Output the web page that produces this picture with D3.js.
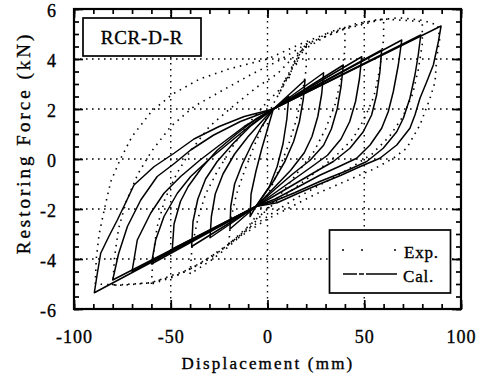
<!DOCTYPE html>
<html>
<head>
<meta charset="utf-8">
<script src="https://cdn.jsdelivr.net/npm/d3@7"></script>
<style>
  body { margin: 0; background: #fff; }
  svg { display: block; font-family: "Liberation Serif", "Times New Roman", serif; }
  svg text { fill: #000; stroke: #000; stroke-width: 0.35px; }
</style>
</head>
<body>
<script>
'use strict';

// axis ticks
const xTicks = [-100, -50, 0, 50, 100];
const yTicks = [-6, -4, -2, 0, 2, 4, 6];
const xGrid = [-50, 0, 50];
const yGrid = [-4, -2, 0, 2, 4];

// calculated model: pivot points where the branches meet
const calPivotUp = [3, 2.0];
const calPivotDown = [-6, -1.9];

// calculated: unloading from each positive peak (first point = peak) down to the lower pivot
const calUnloadPos = [
  [[11, 2.5], [10, 1.6], [8, 0.6], [5, -0.3], [1, -1.1], [-6, -1.9]],
  [[19.4, 3.16], [18.5, 2.4], [16.5, 1.5], [13.5, 0.7], [9, -0.1], [3, -0.9], [-6, -1.9]],
  [[29, 3.45], [28, 2.6], [26, 1.7], [23, 0.9], [19, 0.25], [12, -0.45], [4, -1.1], [-6, -1.9]],
  [[39.2, 3.76], [38, 2.9], [36, 2.0], [33, 1.2], [29, 0.55], [22, -0.05], [13, -0.6], [4, -1.2], [-6, -1.9]],
  [[48.7, 4.09], [47.5, 3.2], [45.5, 2.3], [42.5, 1.5], [38, 0.8], [31, 0.15], [23, -0.3], [13, -0.85], [3, -1.4], [-6, -1.9]],
  [[59, 4.36], [58.1, 3.49], [56.4, 2.56], [53.8, 1.76], [49.5, 1.09], [42.6, 0.43], [34, -0.1], [25, -0.5], [14, -1.0], [3, -1.5], [-6, -1.9]],
  [[69.4, 4.76], [67.6, 3.76], [65, 2.69], [62.4, 1.89], [59, 1.23], [53, 0.56], [46.1, 0.03], [37, -0.3], [27, -0.65], [15, -1.15], [4, -1.6], [-6, -1.9]],
  [[79.2, 4.96], [77.9, 4.16], [76.2, 3.36], [73.6, 2.43], [70.2, 1.63], [66.8, 1.09], [59.8, 0.43], [51.3, -0.1], [40, -0.5], [27, -0.9], [14, -1.35], [3, -1.7], [-6, -1.9]],
  [[89.7, 5.32], [88.3, 4.69], [85.7, 3.76], [82.3, 3.09], [78.8, 2.43], [76.2, 1.76], [73.6, 1.23], [66.8, 0.56], [58.1, 0.03], [48, -0.3], [38, -0.65], [27, -1.0], [15, -1.4], [5, -1.75], [-6, -1.9]]
];

// calculated: unloading from each negative peak (first point = peak) up to the upper pivot
const calUnloadNeg = [
  [[-9, -2.3], [-8.5, -1.4], [-6, -0.5], [-3, 0.4], [0, 1.2], [3, 2.0]],
  [[-19.4, -2.8], [-19, -1.9], [-17, -1.0], [-13, -0.2], [-8, 0.6], [-3, 1.3], [3, 2.0]],
  [[-29.7, -3.15], [-29, -2.3], [-27, -1.4], [-23, -0.6], [-17, 0.2], [-10, 0.9], [-3, 1.5], [3, 2.0]],
  [[-39.2, -3.5], [-38.5, -2.5], [-36, -1.6], [-32, -0.8], [-26, -0.1], [-18, 0.6], [-9, 1.3], [3, 2.0]],
  [[-49.2, -3.6], [-48.3, -2.6], [-45, -1.7], [-41, -1.1], [-34, -0.35], [-26, 0.35], [-16, 1.0], [-6, 1.6], [3, 2.0]],
  [[-60, -4.2], [-57.8, -3.24], [-53.5, -2.3], [-46.6, -1.37], [-39.7, -0.7], [-30, 0.0], [-19, 0.7], [-8, 1.4], [3, 2.0]],
  [[-70, -4.5], [-67.3, -3.24], [-60.4, -2.17], [-53.5, -1.37], [-44.9, -0.7], [-35, -0.05], [-24, 0.6], [-12, 1.3], [3, 2.0]],
  [[-80, -4.84], [-77, -3.8], [-72.4, -2.7], [-65.5, -1.64], [-57, -0.7], [-48, -0.17], [-39.7, 0.36], [-28, 0.95], [-14, 1.5], [3, 2.0]],
  [[-89.5, -5.35], [-88, -4.6], [-86.2, -3.77], [-82, -3.1], [-77.6, -2.44], [-73, -1.7], [-69, -1.04], [-58.7, -0.31], [-48.3, 0.23], [-38, 0.8], [-25, 1.3], [-12, 1.7], [3, 2.0]]
];

// experimental loops (dotted)
const expLoop20 = [[-20, -3.4], [-19, -2.4], [-16, -1.4], [-12, -0.5], [-7, 0.5], [-2, 1.4], [3, 2.2], [8, 2.9], [12, 3.6], [16, 4.2], [20, 4.5],
  [20, 3.6], [18, 2.6], [15, 1.6], [11, 0.6], [6, -0.4], [1, -1.3], [-5, -2.2], [-12, -2.9], [-20, -3.4]];
const expLoop40 = [[-40, -4.6], [-39, -3.5], [-36, -2.4], [-32, -1.4], [-26, -0.5], [-18, 0.5], [-10, 1.4], [0, 2.3], [8, 2.9], [14, 3.8], [20, 4.5], [30, 5.0], [40, 5.3],
  [40, 4.4], [38, 3.2], [35, 2.2], [30, 1.2], [24, 0.3], [16, -0.5], [8, -1.3], [0, -2.0], [-10, -2.8], [-20, -3.5], [-30, -4.1], [-40, -4.6]];
const expLoop60 = [[-60, -5.0], [-59, -3.8], [-57, -2.7], [-53, -1.6], [-47, -0.6], [-40, 0.3], [-30, 1.3], [-18, 2.1], [-5, 2.9], [5, 3.4], [15, 4.2], [30, 4.9], [45, 5.4], [60, 5.6],
  [60, 4.8], [58, 3.6], [55, 2.5], [50, 1.6], [44, 0.8], [35, 0.1], [22, -0.7], [10, -1.4], [0, -2.0], [-10, -2.7], [-20, -3.4], [-35, -4.2], [-48, -4.7], [-60, -5.0]];
const expLoop80 = [[-80, -5.05], [-79, -3.9], [-77, -2.8], [-73, -1.7], [-67, -0.6], [-60, 0.3], [-50, 1.3], [-38, 2.1], [-22, 2.8], [-8, 3.4], [5, 3.9], [20, 4.6], [40, 5.2], [60, 5.6], [80, 5.5],
  [80, 4.6], [78, 3.6], [75, 2.6], [70, 1.7], [63, 0.9], [54, 0.2], [42, -0.4], [28, -1.0], [14, -1.6], [2, -2.2], [-10, -2.8], [-25, -3.7], [-40, -4.4], [-60, -4.95], [-80, -5.05]];
const expLoop90 = [[-89, -5.0], [-88.5, -4.0], [-87, -3.0], [-84, -1.9], [-81, -0.9], [-76, 0.0], [-70, 0.9], [-60, 1.9], [-49, 2.6], [-35, 3.2], [-20, 3.6], [0, 4.0], [17, 4.6], [30, 5.0], [43, 5.3], [55, 5.55], [68, 5.65], [80, 5.55], [88, 5.35],
  [89, 4.8], [87.4, 4.03], [86.6, 3.09], [84, 2.43], [78.8, 1.36], [71.9, 0.43], [65, 0.03], [55, -0.4], [40, -0.9], [25, -1.4], [10, -2.0], [0, -2.4], [-10, -2.9], [-18, -3.3], [-30, -4.0], [-45, -4.6], [-60, -4.95], [-75, -5.05], [-89, -5.0]];
const expJag = [[6, 2.6], [8, 3.0], [10, 3.3], [11, 3.2], [13, 3.7], [14, 3.9], [15, 3.8], [17, 4.3], [19, 4.5], [22, 4.7]];

const width = 484, height = 386;
const plot = { left: 74, right: 461, top: 9, bottom: 309 };

const svg = d3.select('body').append('svg')
  .attr('width', width)
  .attr('height', height);

const x = d3.scaleLinear().domain([-100, 100]).range([plot.left, plot.right]);
const y = d3.scaleLinear().domain([-6, 6]).range([plot.bottom, plot.top]);

// dotted grid
svg.append('g').selectAll('line').data(xGrid).enter().append('line')
  .attr('x1', d => x(d)).attr('x2', d => x(d))
  .attr('y1', plot.top).attr('y2', plot.bottom)
  .attr('stroke', '#000').attr('stroke-width', 1.4)
  .attr('stroke-dasharray', '1.6,4.4');
svg.append('g').selectAll('line').data(yGrid).enter().append('line')
  .attr('x1', plot.left).attr('x2', plot.right)
  .attr('y1', d => y(d)).attr('y2', d => y(d))
  .attr('stroke', '#000').attr('stroke-width', 1.4)
  .attr('stroke-dasharray', '1.6,4.4');

const line = d3.line().x(d => x(d[0])).y(d => y(d[1]));

// experimental loops as dots
const expAll = [expLoop20, expLoop40, expLoop60, expLoop80, expLoop90];
svg.append('g').selectAll('path').data(expAll).enter().append('path')
  .attr('d', line)
  .attr('fill', 'none')
  .attr('stroke', '#000')
  .attr('stroke-width', 1.6)
  .attr('stroke-dasharray', '1.5,5');
svg.append('path').datum(expJag)
  .attr('d', line)
  .attr('fill', 'none')
  .attr('stroke', '#000')
  .attr('stroke-width', 1.5)
  .attr('stroke-dasharray', '1.5,1.8');

// calculated loops
const calLoops = calUnloadPos.map((u, i) => [calPivotUp].concat(u, calUnloadNeg[i]));
svg.append('g').selectAll('path').data(calLoops).enter().append('path')
  .attr('d', line)
  .attr('fill', 'none')
  .attr('stroke', '#000')
  .attr('stroke-width', 1.5)
  .attr('stroke-linejoin', 'round');

// axes: minor ticks inward on all four sides
function styleAxis(g) {
  g.select('.domain').remove();
  g.selectAll('.tick line').attr('stroke', '#000').attr('stroke-width', 1.7);
}
const xMinor = d3.range(-100, 101, 10);
const yMinor = d3.range(-6, 6.01, 0.5);

svg.append('g').attr('transform', `translate(0,${plot.bottom})`)
  .call(d3.axisBottom(x).tickValues(xMinor).tickSize(-5).tickFormat(''))
  .call(styleAxis);
svg.append('g').attr('transform', `translate(0,${plot.top})`)
  .call(d3.axisTop(x).tickValues(xMinor).tickSize(-5).tickFormat(''))
  .call(styleAxis);
svg.append('g').attr('transform', `translate(${plot.left},0)`)
  .call(d3.axisLeft(y).tickValues(yMinor).tickSize(-5).tickFormat(''))
  .call(styleAxis);
svg.append('g').attr('transform', `translate(${plot.right},0)`)
  .call(d3.axisRight(y).tickValues(yMinor).tickSize(-5).tickFormat(''))
  .call(styleAxis);

// major ticks with labels
const xAxis = svg.append('g').attr('transform', `translate(0,${plot.bottom})`)
  .call(d3.axisBottom(x).tickValues(xTicks).tickSize(-9).tickPadding(21).tickFormat(d => String(d)))
  .call(styleAxis);
svg.append('g').attr('transform', `translate(0,${plot.top})`)
  .call(d3.axisTop(x).tickValues(xTicks).tickSize(-9).tickFormat(''))
  .call(styleAxis);
const yAxis = svg.append('g').attr('transform', `translate(${plot.left},0)`)
  .call(d3.axisLeft(y).tickValues(yTicks).tickSize(-9).tickPadding(17).tickFormat(d => String(d)))
  .call(styleAxis);
svg.append('g').attr('transform', `translate(${plot.right},0)`)
  .call(d3.axisRight(y).tickValues(yTicks).tickSize(-9).tickFormat(''))
  .call(styleAxis);

[xAxis, yAxis].forEach(g => g.selectAll('text')
  .attr('fill', '#000')
  .style('font-family', '"Liberation Serif", serif')
  .style('font-size', '18px')
  .style('letter-spacing', '1px'));
yAxis.selectAll('text').attr('dy', '0.42em');

// frame
svg.append('rect')
  .attr('x', plot.left).attr('y', plot.top)
  .attr('width', plot.right - plot.left).attr('height', plot.bottom - plot.top)
  .attr('fill', 'none').attr('stroke', '#000').attr('stroke-width', 2.2);

// axis titles
svg.append('text')
  .attr('x', 268).attr('y', 369)
  .attr('text-anchor', 'middle')
  .style('font-size', '17px')
  .style('letter-spacing', '2.2px')
  .text('Displacement (mm)');

svg.append('text')
  .attr('transform', 'translate(30,143)rotate(-90)')
  .attr('text-anchor', 'middle')
  .style('font-size', '19px')
  .style('letter-spacing', '3px')
  .text('Restoring Force (kN)');

// specimen label box
svg.append('rect')
  .attr('x', 83).attr('y', 18).attr('width', 118).attr('height', 38)
  .attr('fill', '#fff').attr('stroke', '#000').attr('stroke-width', 1.7);
svg.append('text')
  .attr('x', 142).attr('y', 43.5)
  .attr('text-anchor', 'middle')
  .style('font-size', '19px')
  .style('letter-spacing', '0.8px')
  .text('RCR-D-R');

// legend
const lg = svg.append('g');
lg.append('rect')
  .attr('x', 329.5).attr('y', 230).attr('width', 121).attr('height', 63)
  .attr('fill', '#fff').attr('stroke', '#000').attr('stroke-width', 1.7);
lg.selectAll('circle').data([343, 362, 395]).enter().append('circle')
  .attr('cx', d => d).attr('cy', 250).attr('r', 1).attr('fill', '#000');
lg.append('line')
  .attr('x1', 343).attr('x2', 397).attr('y1', 274).attr('y2', 274)
  .attr('stroke', '#000').attr('stroke-width', 1.5)
  .attr('stroke-dasharray', '14,2,5,2,40');
lg.append('text').attr('x', 404).attr('y', 258)
  .style('font-size', '17px').style('letter-spacing', '0.8px').text('Exp.');
lg.append('text').attr('x', 403).attr('y', 282)
  .style('font-size', '17px').style('letter-spacing', '0.8px').text('Cal.');
</script>
</body>
</html>
